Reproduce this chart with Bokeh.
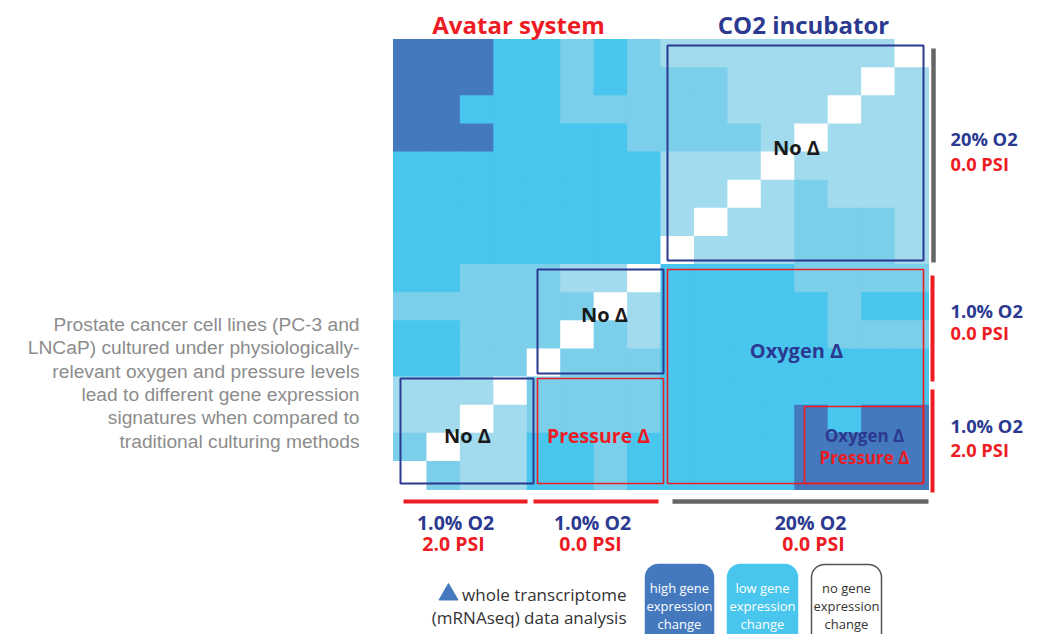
from bokeh.plotting import figure
from bokeh.models import Range1d, Label, ColumnDataSource
from bokeh.embed import file_html
from bokeh.resources import INLINE

# ---------------- data ----------------
# expression-change level of each cell (rows listed top to bottom, 16 samples)
# 0 = no change (white), 1 = very low, 2 = low-mid, 3 = low, 4 = high
row_00 = [4, 4, 4, 3, 3, 2, 3, 2, 1, 1, 1, 1, 1, 1, 1, 0]
row_01 = [4, 4, 4, 3, 3, 2, 3, 2, 2, 2, 1, 1, 1, 1, 0, 1]
row_02 = [4, 4, 3, 3, 3, 2, 2, 2, 2, 2, 1, 1, 1, 0, 1, 1]
row_03 = [4, 4, 4, 3, 3, 3, 3, 2, 2, 2, 2, 1, 0, 1, 1, 1]
row_04 = [3, 3, 3, 3, 3, 3, 3, 3, 1, 1, 1, 0, 1, 1, 1, 1]
row_05 = [3, 3, 3, 3, 3, 3, 3, 3, 1, 1, 0, 1, 2, 1, 1, 1]
row_06 = [3, 3, 3, 3, 3, 3, 3, 3, 1, 0, 1, 1, 2, 2, 2, 1]
row_07 = [3, 3, 3, 3, 3, 3, 3, 3, 0, 1, 1, 1, 2, 2, 2, 1]
row_08 = [3, 3, 2, 2, 2, 1, 1, 0, 3, 3, 3, 3, 2, 2, 2, 2]
row_09 = [2, 2, 2, 2, 2, 2, 0, 1, 3, 3, 3, 3, 3, 2, 3, 3]
row_10 = [3, 3, 2, 2, 2, 0, 2, 1, 3, 3, 3, 3, 3, 2, 2, 2]
row_11 = [3, 3, 2, 2, 0, 2, 2, 2, 3, 3, 3, 3, 3, 3, 3, 3]
row_12 = [1, 1, 1, 0, 2, 2, 2, 2, 3, 3, 3, 3, 3, 3, 3, 3]
row_13 = [1, 1, 0, 1, 2, 2, 2, 2, 3, 3, 3, 3, 4, 3, 4, 4]
row_14 = [2, 0, 1, 1, 3, 3, 2, 3, 3, 3, 3, 3, 4, 4, 4, 4]
row_15 = [0, 2, 1, 1, 3, 3, 2, 3, 3, 3, 3, 3, 4, 4, 4, 4]
grid_rows = [row_00, row_01, row_02, row_03, row_04, row_05, row_06, row_07,
             row_08, row_09, row_10, row_11, row_12, row_13, row_14, row_15]

level_colors = ["#FFFFFF", "#A2DBEE", "#7BCFEA", "#48C6EE", "#4479BD"]

col_groups = [("1.0% O2", "2.0 PSI"), ("1.0% O2", "0.0 PSI"), ("20% O2", "0.0 PSI")]
row_groups = [("20% O2", "0.0 PSI"), ("1.0% O2", "0.0 PSI"), ("1.0% O2", "2.0 PSI")]

paragraph = ["Prostate cancer cell lines (PC-3 and",
             "LNCaP) cultured under physiologically-",
             "relevant oxygen and pressure levels",
             "lead to different gene expression",
             "signatures when compared to",
             "traditional culturing methods"]

legend_items = [("high gene", "expression", "change"),
                ("low gene", "expression", "change"),
                ("no gene", "expression", "change")]

# ---------------- layout helpers (reference pixels -> data units) ----------------
W, H = 1029, 634
N = len(grid_rows)
PX = 535 / N
PY = 450 / N
X0, Y0 = 393, 489


def X(px):
    return (px - X0) / PX


def Y(py):
    return (Y0 - py) / PY


NAVY = "#2B3990"
RED = "#ED1C24"
GRAY = "#666666"

p = figure(width=W, height=H, output_backend="svg", toolbar_location=None,
           x_range=Range1d(X(0), X(W)), y_range=Range1d(Y(H), Y(0)),
           x_axis_location=None, y_axis_location=None, min_border=0,
           outline_line_color=None)
p.grid.visible = False
p.background_fill_color = "white"
p.border_fill_color = "white"

# ---------------- heatmap ----------------
xs, ys, cs = [], [], []
for r, row in enumerate(grid_rows):
    for c, lv in enumerate(row):
        xs.append(c + 0.5)
        ys.append(N - 1 - r + 0.5)
        cs.append(level_colors[lv])
src = ColumnDataSource(dict(x=xs, y=ys, c=cs))
p.rect(x="x", y="y", width=1.03, height=1.03, fill_color="c", line_color=None,
       source=src)

# ---------------- comparison boxes ----------------
def box(l, t, r, b, color, lw):
    p.quad(left=[X(l)], right=[X(r)], top=[Y(t)], bottom=[Y(b)],
           fill_color=None, line_color=color, line_width=lw)


box(667, 45, 923, 260, NAVY, 2)
box(537, 269, 663, 373, NAVY, 2)
box(400, 378, 533, 483, NAVY, 2)
box(537, 378, 663, 483, RED, 1.6)
box(667, 269, 923, 483, RED, 1.6)
box(804, 406, 923, 483, RED, 1.6)


def label(px, py, text, color, size, bold=True, align="center", font="Open Sans"):
    p.add_layout(Label(x=X(px), y=Y(py), text=text, text_color=color,
                       text_font=font, text_font_size=f"{size}px",
                       text_font_style="bold" if bold else "normal",
                       text_align=align, text_baseline="middle"))


label(796, 147, "No Δ", "#1A1A1A", 20)
label(604, 314, "No Δ", "#1A1A1A", 20)
label(467, 435, "No Δ", "#1A1A1A", 20)
label(598, 435, "Pressure Δ", RED, 19.5)
label(796, 350, "Oxygen Δ", NAVY, 20)
label(864, 435, "Oxygen Δ", NAVY, 17)
label(864, 457, "Pressure Δ", RED, 17)

# ---------------- titles ----------------
label(518, 24, "Avatar system", RED, 24)
label(803, 24, "CO2 incubator", NAVY, 24)

# ---------------- group bars ----------------
p.segment(x0=[X(933)], x1=[X(933)], y0=[Y(48)], y1=[Y(262)], line_color=GRAY, line_width=4.5)
p.segment(x0=[X(932), X(932)], x1=[X(932), X(932)], y0=[Y(275), Y(389)], y1=[Y(381), Y(492)],
          line_color=RED, line_width=4)
p.segment(x0=[X(403), X(533)], x1=[X(527), X(658)], y0=[Y(501), Y(501)], y1=[Y(501), Y(501)],
          line_color=RED, line_width=4)
p.segment(x0=[X(672)], x1=[X(928)], y0=[Y(501)], y1=[Y(501)], line_color=GRAY, line_width=4.5)

# right group labels
for (o2, psi), (y1, y2) in zip(row_groups, [(138, 163), (310, 332), (425, 449)]):
    label(950, y1, o2, NAVY, 18.3, align="left")
    label(950, y2, psi, RED, 18.3, align="left")

# bottom group labels
for (o2, psi), (cx1, cx2) in zip(col_groups, [(455, 453), (592, 590), (810, 813)]):
    label(cx1, 522, o2, NAVY, 19.5)
    label(cx2, 543, psi, RED, 19.5)

# ---------------- paragraph ----------------
for i, line in enumerate(paragraph):
    label(359, 324 + i * 23.3, line, "#8C8C8C", 19.2, bold=False, align="right",
          font="Liberation Sans")

# ---------------- legend ----------------
p.scatter(x=[X(448)], y=[Y(594)], marker="triangle", size=19,
          fill_color="#4479BD", line_color="#4479BD")
label(626, 594, "whole transcriptome", "#333333", 17, bold=False, align="right")
label(626, 617, "(mRNAseq) data analysis", "#333333", 17, bold=False, align="right")

box_specs = [(645, 713, "#4479BD", "#4479BD", "white"),
             (727, 797, "#48C6EE", "#48C6EE", "white"),
             (811, 881, "white", "#555555", "#333333")]
for (l, r, fc, lc, tc), lines in zip(box_specs, legend_items):
    p.quad(left=[X(l)], right=[X(r)], top=[Y(564)], bottom=[Y(652)],
           fill_color=fc, line_color=lc, line_width=1.5, border_radius=13)
    for j, t in enumerate(lines):
        label((l + r) / 2, 587 + j * 18, t, tc, 13, bold=False)

open("out.html", "w").write(file_html(p, INLINE))
